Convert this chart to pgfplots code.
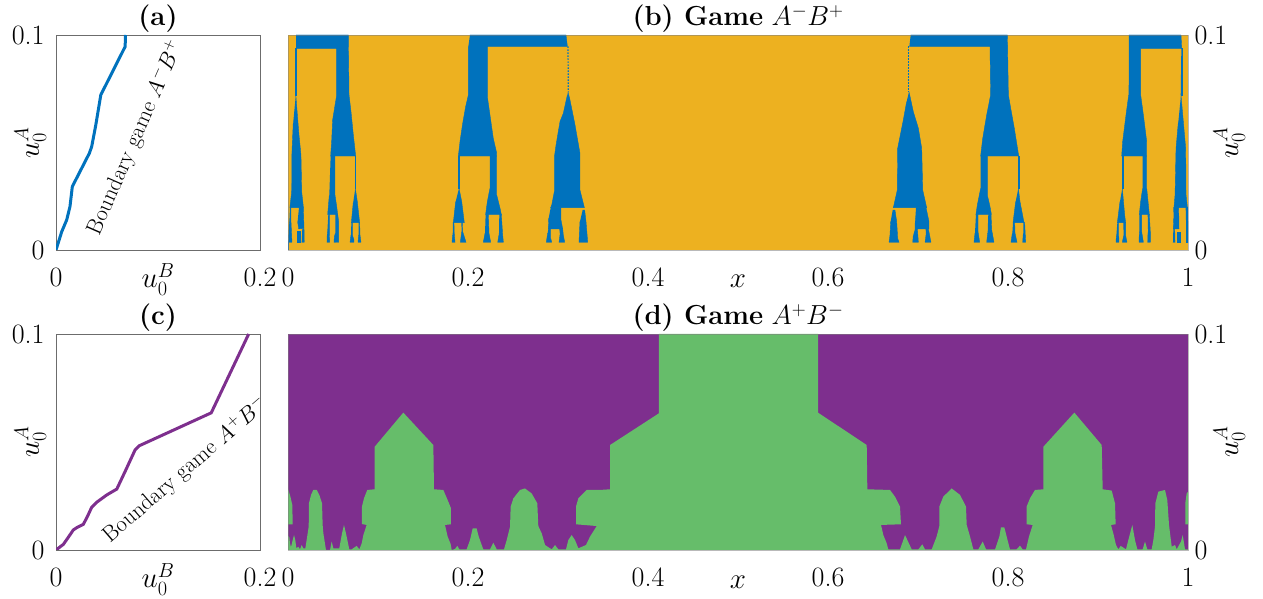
\RequirePackage{fix-cm}
\documentclass[border=0pt]{standalone}
\usepackage{pgfplots}
\pgfplotsset{compat=1.18}
\definecolor{mblue}{HTML}{0072BD}
\definecolor{myel}{HTML}{EDB120}
\definecolor{mpur}{HTML}{7E2F8E}
\definecolor{mgrn}{HTML}{66BD6A}
\newcommand{\fs}{\fontsize{28}{32}\selectfont}
\newcommand{\ft}{\fontsize{29}{33}\selectfont}
\newcommand{\fh}{\fontsize{27.5}{32}\selectfont}
\newcommand{\B}[1]{\addplot[draw=mblue,line width=0.4pt,fill=mblue,forget plot] coordinates {#1};}
\pgfplotsset{
  base/.style={scale only axis, enlargelimits=false, major tick length=0pt, minor tick length=0pt,
    axis line style={draw=gray!85!black,line width=0.7pt},
    tick label style={font=\fs}, label style={font=\ft},
    title style={font=\fh,at={(0.5,1)},anchor=base,yshift=3pt},
    xticklabel style={yshift=-14pt},
    xlabel style={at={(0.5,0)},anchor=base,yshift=-38pt},
    ymin=0,ymax=0.1,ytick={0,0.1},yticklabels={0,0.1}},
  small/.style={base,width=204pt,height=215pt,xmin=0,xmax=0.2,xtick={0,0.2},xticklabels={0,0.2},
    xlabel={$u_0^B$},ylabel={$u_0^A$},
    ylabel style={at={(0,0.5)},anchor=base,rotate=0,yshift=17pt},
    yticklabel style={xshift=-8pt}},
  big/.style={base,width=900pt,height=215pt,xmin=0,xmax=1,xtick={0,0.2,0.4,0.6,0.8,1},
    xticklabels={0,0.2,0.4,0.6,0.8,1},xlabel={$x$},axis on top,
    axis line style={draw=gray,draw opacity=0.55,line width=0.7pt},
    yticklabel pos=right,ylabel={$u_0^A$},
    ylabel style={at={(1,0.5)},anchor=base,rotate=0,yshift=-50pt},
    yticklabel style={xshift=3pt}}
}
\begin{document}
\begin{tikzpicture}
\path[use as bounding box] (0,0) rectangle (1263pt,599pt);

\begin{axis}[small,at={(56pt,349pt)},anchor=south west,title={\textbf{(a)}}]
\addplot[mblue,line width=3pt] coordinates {(0,0)(.0056,.0085)(.0105,.0140)(.0137,.0202)(.0160,.0295)(.0327,.0450)(.0350,.0481)(.0390,.0581)(.0439,.0721)(.0678,.0946)(.0681,.1)};
\node[rotate=66.4,font=\fontsize{22.5}{26}\selectfont] at (axis cs:.0775,.0521) {Boundary game $A^-B^+$};
\end{axis}

\begin{axis}[big,at={(288pt,349pt)},anchor=south west,title={\textbf{(b) Game} $A^-B^+$}]
\addplot[draw=none,fill=myel,forget plot] coordinates {(0,0)(1,0)(1,.1)(0,.1)};
% cluster 1
\B{(.0089,.1)(.0670,.1)(.0678,.0721)(.0700,.0643)(.0726,.0535)(.0752,.0437)(.0474,.0437)(.0485,.0504)(.0496,.0605)(.0541,.0721)(.0541,.0938)(.0089,.0938)}
\B{(.0474,.0437)(.0522,.0437)(.0522,.0256)(.0541,.0202)(.0552,.0166)(.0441,.0166)(.0459,.0256)}
\B{(.0448,.0166)(.0459,.0166)(.0459,.0085)(.0463,.0036)(.0433,.0036)(.0437,.0085)}
\B{(.0526,.0166)(.0552,.0166)(.0563,.0132)(.0563,.0036)(.0548,.0036)(.0544,.0047)(.0541,.0036)(.0511,.0036)(.0515,.0062)(.0526,.0078)}
\B{(.0741,.0437)(.0752,.0437)(.0752,.0287)(.0741,.0287)}
\B{(.0748,.0287)(.0770,.0225)(.0796,.0127)(.0704,.0127)(.0726,.0225)}
\B{(.0704,.0127)(.0715,.0127)(.0715,.0070)(.0733,.0047)(.0733,.0036)(.0689,.0036)(.0700,.0070)}
\B{(.0785,.0127)(.0796,.0127)(.0800,.0070)(.0811,.0036)(.0778,.0036)(.0785,.0070)}
\B{(.0081,.0938)(.0093,.0938)(.0093,.0721)(.0081,.0721)}
\B{(.0087,.0721)(.0104,.0628)(.0122,.0535)(.0144,.0442)(.0152,.0271)(.0170,.0202)(.0170,.0197)(.0022,.0197)(.0022,.0202)(.0041,.0271)(.0044,.0457)(.0059,.0597)}
\B{(.0022,.0197)(.0033,.0197)(.0033,.0132)(.0044,.0036)(.0004,.0036)(.0015,.0132)}
\B{(.0122,.0197)(.0170,.0197)(.0178,.0101)(.0119,.0098)(.0107,.0132)}
\B{(.0100,.0088)(.0133,.0088)(.0133,.0036)(.0100,.0036)}
\B{(.0159,.0098)(.0178,.0098)(.0181,.0036)(.0152,.0036)}
\B{(0,.004)(.0007,.004)(.0007,0)(0,0)}
% cluster 2
\B{(.2022,.1)(.3089,.1)(.3104,.0947)(.2215,.0947)(.2215,.0713)(.2244,.0628)(.2281,.0519)(.2319,.0450)(.2319,.0437)(.1893,.0437)(.1911,.0504)(.1941,.0589)(.1974,.0667)(.2004,.0721)(.2004,.0947)}
\B{(.2244,.0437)(.2319,.0437)(.2319,.0256)(.2356,.0194)(.2370,.0166)(.2196,.0166)(.2215,.0225)(.2244,.0287)}
\B{(.2196,.0166)(.2226,.0166)(.2233,.0078)(.2252,.0036)(.2170,.0036)(.2189,.0078)}
\B{(.2348,.0166)(.2370,.0166)(.2385,.0070)(.2393,.0036)(.2330,.0036)(.2344,.0070)}
\B{(.1893,.0437)(.1904,.0437)(.1904,.0287)(.1893,.0287)}
\B{(.1900,.0287)(.1930,.0225)(.1959,.0127)(.1837,.0127)(.1863,.0225)}
\B{(.1833,.0127)(.1844,.0127)(.1848,.0070)(.1856,.0036)(.1822,.0036)(.1830,.0070)}
\B{(.1926,.0127)(.1937,.0127)(.1941,.0085)(.1978,.0036)(.1915,.0036)(.1930,.0085)}
\addplot[mblue,line width=1.2pt,dash pattern=on 1.5pt off 1.5pt,forget plot] coordinates {(.3111,.0947)(.3115,.0736)};
\B{(.3111,.0736)(.3133,.0698)(.3189,.0581)(.3244,.0450)(.3244,.0279)(.3293,.0197)(.2919,.0197)(.2930,.0209)(.2963,.0279)(.2963,.0442)(.2978,.0488)(.3022,.0597)(.3059,.0636)(.3104,.0721)}
\B{(.2919,.0197)(.3033,.0197)(.3033,.0140)(.3052,.0098)(.2893,.0098)(.2896,.0147)}
\B{(.2893,.0098)(.2919,.0098)(.2919,.0054)(.2930,.0036)(.2870,.0036)(.2885,.0078)}
\B{(.3015,.0098)(.3052,.0098)(.3059,.0070)(.3074,.0036)(.3011,.0036)(.3022,.0070)}
\B{(.3274,.0186)(.3296,.0186)(.3311,.0132)(.3330,.0036)(.3233,.0036)(.3244,.0132)}
% cluster 3
\addplot[mblue,line width=1.2pt,dash pattern=on 1.5pt off 1.5pt,forget plot] coordinates {(.6896,.0947)(.6896,.0736)};
\B{(.6900,.0736)(.6948,.0643)(.7004,.0566)(.7041,.0473)(.7052,.0279)(.7096,.0197)(.6726,.0197)(.6770,.0279)(.6774,.0473)(.6837,.0605)(.6874,.0690)}
\B{(.6719,.0186)(.6744,.0186)(.6763,.0132)(.6774,.0054)(.6789,.0036)(.6678,.0036)(.6689,.0070)(.6696,.0132)}
\B{(.6978,.0197)(.7089,.0197)(.7122,.0132)(.7122,.0098)(.6967,.0098)(.6970,.0147)}
\B{(.6967,.0098)(.6993,.0098)(.7004,.0036)(.6941,.0036)(.6948,.0070)}
\B{(.7085,.0098)(.7115,.0098)(.7144,.0036)(.7078,.0036)(.7089,.0070)}
\B{(.6919,.1)(.7993,.1)(.8004,.0721)(.8030,.0659)(.8070,.0566)(.8119,.0437)(.7696,.0437)(.7719,.0519)(.7763,.0628)(.7807,.0721)(.7800,.0947)(.6904,.0947)}
\B{(.7696,.0437)(.7770,.0437)(.7770,.0256)(.7800,.0202)(.7815,.0166)(.7644,.0166)(.7659,.0209)(.7696,.0287)}
\B{(.7644,.0166)(.7667,.0166)(.7667,.0085)(.7685,.0036)(.7622,.0036)(.7633,.0078)}
\B{(.7781,.0166)(.7811,.0166)(.7819,.0093)(.7844,.0036)(.7763,.0036)(.7774,.0078)}
\B{(.8111,.0437)(.8122,.0437)(.8122,.0287)(.8111,.0287)}
\B{(.8115,.0287)(.8133,.0225)(.8178,.0127)(.8056,.0127)(.8085,.0225)}
\B{(.8056,.0127)(.8074,.0127)(.8078,.0078)(.8100,.0036)(.8033,.0036)(.8048,.0078)}
\B{(.8170,.0127)(.8185,.0127)(.8196,.0036)(.8163,.0036)(.8170,.0078)}
% cluster 4
\B{(.9344,.1)(.9922,.1)(.9930,.0938)(.9474,.0938)(.9474,.0721)(.9504,.0628)(.9541,.0504)(.9541,.0437)(.9263,.0437)(.9274,.0504)(.9311,.0628)(.9341,.0721)}
\B{(.9496,.0437)(.9541,.0437)(.9541,.0287)(.9570,.0166)(.9459,.0166)(.9474,.0225)(.9496,.0287)}
\B{(.9459,.0166)(.9485,.0166)(.9485,.0085)(.9504,.0036)(.9456,.0036)(.9459,.0085)}
\B{(.9552,.0166)(.9570,.0166)(.9581,.0085)(.9581,.0036)(.9552,.0036)(.9556,.0085)}
\B{(.9267,.0437)(.9281,.0437)(.9281,.0287)(.9267,.0287)}
\B{(.9270,.0287)(.9296,.0163)(.9307,.0127)(.9215,.0127)(.9244,.0225)}
\B{(.9215,.0127)(.9230,.0127)(.9230,.0067)(.9233,.0036)(.9200,.0036)(.9204,.0067)}
\B{(.9281,.0127)(.9307,.0127)(.9307,.0067)(.9322,.0036)(.9270,.0036)(.9285,.0067)}
\B{(.9926,.0938)(.9933,.0938)(.9933,.0721)(.9919,.0721)}
\B{(.9922,.0721)(.9948,.0597)(.9974,.0473)(.9978,.0256)(.9993,.0197)(.9844,.0197)(.9856,.0256)(.9867,.0473)(.9893,.0597)}
\B{(.9837,.0197)(.9896,.0197)(.9900,.0098)(.9837,.0098)(.9841,.0147)}
\B{(.9837,.0098)(.9852,.0098)(.9856,.0036)(.9833,.0036)}
\B{(.9881,.0085)(.9911,.0085)(.9911,.0036)(.9881,.0036)}
\B{(.9978,.0132)(1,.0132)(1,.0036)(.9978,.0036)}
\B{(.9974,.0197)(.9993,.0197)(.9993,.0132)(.9978,.0132)}
\end{axis}

\begin{axis}[small,at={(56pt,49pt)},anchor=south west,height=216pt,title={\textbf{(c)}}]
\addplot[mpur,line width=3pt] coordinates {(0,0)(.0072,.0026)(.0121,.0059)(.0170,.0093)(.0209,.0105)(.0268,.0119)(.0308,.0155)(.0350,.0198)(.0399,.0221)(.0498,.0255)(.0596,.0282)(.0678,.0364)(.0776,.0464)(.0818,.0483)(.1522,.0635)(.1889,.1)};
\node[rotate=40.9,font=\fontsize{22.5}{26}\selectfont] at (axis cs:.127,.0371) {Boundary game $A^+B^-$};
\end{axis}

\begin{axis}[big,at={(288pt,49pt)},anchor=south west,height=216pt,title={\textbf{(d) Game} $A^+B^-$}]
\addplot[draw=none,fill=mpur,forget plot] coordinates {(0,0)(1,0)(1,.1)(0,.1)};
\addplot[draw=none,fill=mgrn,forget plot] coordinates {(0,.0065)(.0015,.0059)(.0022,.0031)(.0033,.0012)(.0052,.0046)(.0067,.0069)(.0081,.0046)(.0093,.0008)(.0115,.0015)(.0133,.0003)(.0152,.0023)(.0170,.0008)(.0193,.0008)(.0207,.0046)(.0230,.0108)(.0233,.0216)(.0256,.0255)(.0281,.0278)(.0319,.0278)(.0348,.0255)(.0378,.0216)(.0385,.0116)(.0393,.0077)(.0422,0)(.0467,0)(.0485,.0039)(.0504,.0008)(.0570,.0008)(.0600,.0077)(.0622,.0116)(.0644,.0077)(.0681,.0003)(.0707,.0003)(.0763,.0019)(.0793,.0003)(.0819,.0031)(.0837,.0069)(.0874,.0116)(.0822,.0120)(.0822,.0201)(.0844,.0239)(.0881,.0278)(.0963,.0281)(.0963,.0478)(.1281,.0636)(.1615,.0486)(.1622,.0281)(.1726,.0278)(.1781,.0224)(.1811,.0193)(.1811,.0119)(.1744,.0116)(.1774,.0062)(.1807,.0028)(.1819,0)(.1856,.0005)(.1881,.0019)(.1904,.0003)(.1985,.0003)(.2022,.0046)(.2052,.0100)(.2096,.0100)(.2119,.0062)(.2170,.0003)(.2244,.0003)(.2281,.0034)(.2319,.0003)(.2400,.0003)(.2430,.0046)(.2467,.0108)(.2474,.0201)(.2504,.0239)(.2578,.0278)(.2633,.0285)(.2707,.0262)(.2770,.0216)(.2781,.0111)(.2819,.0077)(.2856,.0023)(.2930,.0003)(.2967,.0023)(.3004,.0003)(.3089,.0003)(.3115,.0046)(.3152,.0069)(.3189,.0046)(.3226,.0008)(.3311,.0023)(.3356,.0062)(.3430,.0111)(.3200,.0119)(.3200,.0201)(.3226,.0239)(.3319,.0278)(.3467,.0278)(.3578,.0281)(.3578,.0486)(.4122,.0633)(.4122,.1)(.5889,.1)(.5889,.0636)(.6430,.0486)(.6437,.0281)(.6689,.0278)(.6744,.0247)(.6800,.0201)(.6811,.0119)(.6589,.0116)(.6615,.0069)(.6652,.0031)(.6670,.0003)(.6800,.0003)(.6856,.0069)(.6930,.0003)(.7004,.0003)(.7048,.0026)(.7078,.0003)(.7152,.0003)(.7207,.0062)(.7237,.0111)(.7237,.0201)(.7281,.0247)(.7374,.0285)(.7467,.0255)(.7533,.0201)(.7541,.0116)(.7578,.0062)(.7615,.0003)(.7670,.0003)(.7719,.0039)(.7756,.0003)(.7856,.0003)(.7904,.0062)(.7922,.0105)(.7959,.0105)(.7985,.0062)(.8022,.0003)(.8096,.0003)(.8133,.0020)(.8163,.0003)(.8200,.0003)(.8233,.0062)(.8274,.0116)(.8207,.0119)(.8207,.0201)(.8244,.0239)(.8300,.0278)(.8393,.0281)(.8393,.0478)(.8737,.0636)(.9041,.0486)(.9052,.0281)(.9152,.0275)(.9189,.0216)(.9196,.0119)(.9144,.0116)(.9170,.0077)(.9200,.0023)(.9226,.0003)(.9252,.0019)(.9311,.0003)(.9337,.0046)(.9381,.0116)(.9411,.0046)(.9437,.0003)(.9496,.0003)(.9522,.0039)(.9548,.0003)(.9596,.0003)(.9615,.0046)(.9633,.0108)(.9637,.0216)(.9670,.0270)(.9744,.0278)(.9770,.0231)(.9789,.0116)(.9819,.0015)(.9856,.0023)(.9874,.0003)(.9922,.0039)(.9941,.0069)(.9967,.0003)(1,.0003)(1,0)(0,0)};
\addplot[draw=none,fill=mgrn,forget plot] coordinates {(0,.0281)(.0022,.0255)(.0048,.0208)(.0052,.0119)(0,.0119)};
\addplot[draw=none,fill=mgrn,forget plot] coordinates {(.9970,.0119)(.9970,.0216)(.9985,.0262)(1,.0270)(1,.0119)};
\end{axis}
\end{tikzpicture}
\end{document}
